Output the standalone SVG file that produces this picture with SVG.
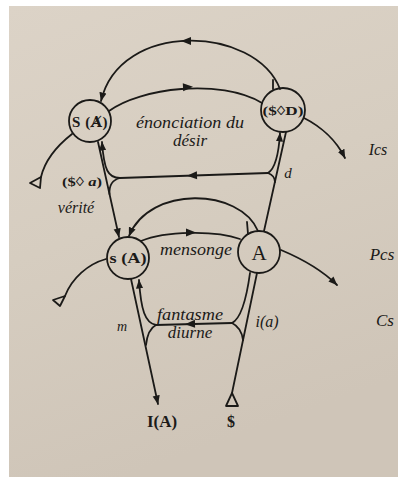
<svg xmlns="http://www.w3.org/2000/svg" xmlns:xlink="http://www.w3.org/1999/xlink" width="404" height="477" viewBox="0 0 404 477">
<defs>
<linearGradient id="paper" x1="0" y1="0" x2="0.3" y2="1">
<stop offset="0" stop-color="#dcd3c7"/>
<stop offset="0.5" stop-color="#d6cdc0"/>
<stop offset="1" stop-color="#cfc5b8"/>
</linearGradient>
<marker id="arr" viewBox="0 0 10 10" refX="9.5" refY="5" markerWidth="9" markerHeight="9" markerUnits="userSpaceOnUse" orient="auto">
<path d="M0,1 L10,5 L0,9 Z" fill="#1b1a18"/>
</marker>
<path id="mid" d="M5,0 L-5,-4 L-5,4 Z" fill="#1b1a18"/>
<style>
.ln{fill:none;stroke:#1b1a18;stroke-width:1.8;stroke-linecap:round;stroke-linejoin:round}
.nd{fill:none;stroke:#1b1a18;stroke-width:1.8}
.tri{fill:none;stroke:#1b1a18;stroke-width:1.8;stroke-linejoin:round}
.lb{font-family:"Liberation Serif","DejaVu Serif",serif;font-weight:bold;fill:#1b1a18}
.it{font-family:"Liberation Serif","DejaVu Serif",serif;font-style:italic;fill:#1b1a18}
</style>
</defs>
<rect x="0" y="0" width="404" height="477" fill="#ffffff"/>
<rect x="9" y="6" width="389" height="471" fill="url(#paper)"/>

<g id="connectors">
<!-- top arc ($◊D) -> S(A) -->
<path class="ln" d="M280 89 C255 25 120 20 101 101" marker-end="url(#arr)"/>
<use xlink:href="#mid" transform="translate(186,41) rotate(180)"/>
<path class="ln" d="M273 80 L273 89"/>
<!-- S(A) -> ($◊D) -->
<path class="ln" d="M109 111 C140 88 220 78 262 103"/>
<use xlink:href="#mid" transform="translate(188,87) rotate(-3)"/>
<!-- ($◊D) -> Ics -->
<path class="ln" d="M304 118 C320 126 336 140 345 158" marker-end="url(#arr)"/>
<!-- S(A) left tail -->
<path class="ln" d="M72 134 C58 145 45 160 41 177"/>
<polygon class="tri" points="41,177 30,183 40,188"/>
<!-- left vertical S(A) - s(A) -->
<path class="ln" d="M98 142 L119 237" marker-end="url(#arr)"/>
<path class="ln" d="M120 178 C108 178 104 170 102 142" marker-end="url(#arr)"/>
<path class="ln" d="M120 178 C112 180 109 186 109.5 194"/>
<!-- ($◊a) horizontal -->
<path class="ln" d="M268 173 L120 178"/>
<use xlink:href="#mid" transform="translate(192,175.5) rotate(178)"/>
<!-- right vertical ($◊D) - A -->
<path class="ln" d="M286 132 L264 231"/>
<path class="ln" d="M268 173 C276 168 279 150 280 133" marker-end="url(#arr)"/>
<path class="ln" d="M268 173 C273 175 275 178 275 182"/>
<!-- arc A -> s(A) -->
<path class="ln" d="M258 231 C240 188 150 185 129 236" marker-end="url(#arr)"/>
<path class="ln" d="M247 222 L248 234"/>
<!-- mensonge s(A) -> A -->
<path class="ln" d="M141 241 C165 231 215 230 240 239"/>
<use xlink:href="#mid" transform="translate(191,232.5) rotate(0)"/>
<!-- A -> Pcs -->
<path class="ln" d="M281 250 C300 258 320 268 337 285" marker-end="url(#arr)"/>
<!-- s(A) left tail -->
<path class="ln" d="M106 259 C88 264 72 278 65 296"/>
<polygon class="tri" points="65,296 53,300 60,306"/>
<!-- bottom left s(A) - I(A) -->
<path class="ln" d="M131 279 L158 404" marker-end="url(#arr)"/>
<path class="ln" d="M156 325 C145 323 141 310 139 280" marker-end="url(#arr)"/>
<path class="ln" d="M156 325 C150 328 147 336 146 345"/>
<!-- fantasme horizontal -->
<path class="ln" d="M232 323 L156 325"/>
<use xlink:href="#mid" transform="translate(190,324) rotate(178.5)"/>
<!-- bottom right A - $ -->
<path class="ln" d="M257 273 L232 393"/>
<path class="ln" d="M250 273 C247 295 242 318 232 323"/>
<path class="ln" d="M232 323 C238 326 242 332 243 340"/>
<polygon class="tri" points="232,393 226,406 238,406"/>
</g>

<g id="node-SA">
<circle class="nd" cx="90" cy="121" r="21"/>
<text class="lb" x="90" y="127" font-size="15" text-anchor="middle" letter-spacing="0.6">S (<tspan font-family="DejaVu Serif, serif" font-size="14">A̸</tspan>)</text>
</g>
<g id="node-SD">
<circle class="nd" cx="283" cy="110" r="22"/>
<text class="lb" x="283" y="115" font-size="13" text-anchor="middle" textLength="41" lengthAdjust="spacingAndGlyphs">($◊D)</text>
</g>
<g id="node-sA">
<circle class="nd" cx="128" cy="258" r="21"/>
<text class="lb" x="128" y="263" font-size="14" text-anchor="middle" textLength="37" lengthAdjust="spacingAndGlyphs">s (A)</text>
</g>
<g id="node-A">
<circle class="nd" cx="259" cy="252" r="21"/>
<text x="259" y="260" font-size="21" text-anchor="middle" font-family="Liberation Serif, serif" fill="#1b1a18">A</text>
</g>

<g id="labels">
<text class="it" x="190" y="128" font-size="17" text-anchor="middle" textLength="108" lengthAdjust="spacingAndGlyphs">énonciation du</text>
<text class="it" x="190" y="146" font-size="17" text-anchor="middle">désir</text>
<text class="lb" x="82" y="186" font-size="13" text-anchor="middle" textLength="40" lengthAdjust="spacingAndGlyphs">($◊ <tspan font-style="italic">a</tspan>)</text>
<text class="it" x="76" y="213" font-size="16" text-anchor="middle">vérité</text>
<text class="it" x="288" y="178" font-size="15" text-anchor="middle">d</text>
<text class="it" x="378" y="155" font-size="16" text-anchor="middle">Ics</text>
<text class="it" x="382" y="260" font-size="17" text-anchor="middle">Pcs</text>
<text class="it" x="385" y="326" font-size="17" text-anchor="middle">Cs</text>
<text class="it" x="196" y="255" font-size="17" text-anchor="middle" textLength="72" lengthAdjust="spacingAndGlyphs">mensonge</text>
<text class="it" x="190" y="320" font-size="17" text-anchor="middle" textLength="66" lengthAdjust="spacingAndGlyphs">fantasme</text>
<text class="it" x="190" y="338" font-size="17" text-anchor="middle">diurne</text>
<text class="it" x="122" y="331" font-size="14" text-anchor="middle">m</text>
<text class="it" x="267" y="327" font-size="16" text-anchor="middle">i(a)</text>
<text class="lb" x="162" y="427" font-size="16" text-anchor="middle" textLength="30" lengthAdjust="spacingAndGlyphs">I(A)</text>
<text class="lb" x="231" y="427" font-size="16" text-anchor="middle">$</text>
</g>
</svg>
